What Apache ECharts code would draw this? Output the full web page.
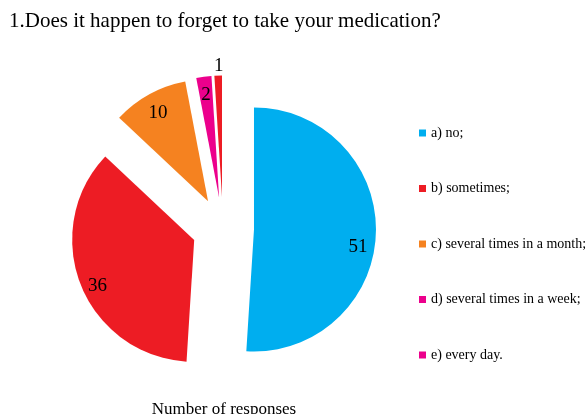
<!DOCTYPE html>
<html>
<head>
<meta charset="utf-8">
<script src="https://cdn.jsdelivr.net/npm/echarts@6/dist/echarts.min.js"></script>
<style>
  html, body { margin: 0; padding: 0; background: #fff; }
  #chart { width: 587px; height: 414px; }
</style>
</head>
<body>
<div id="chart"></div>
<script>
// Survey answers and their response counts
const categories = [
  'a) no;',
  'b) sometimes;',
  'c) several times in a month;',
  'd) several times in a week;',
  'e) every day.'
];
const responses = [51, 36, 10, 2, 1];
const sliceColors = ['#00AEEF', '#ED1C24', '#F58220', '#EC008C', '#ED1C24'];
const legendColors = ['#00AEEF', '#ED1C24', '#F58220', '#EC008C', '#EC008C'];

const titleText = '1.Does it happen to forget to take your medication?';
const footerText = 'Number of responses';

const serif = '"Liberation Serif", "Times New Roman", serif';
const pieCenter = [223, 228.5];
const pieRadius = 122;
const explode = 31;
// small vertical nudges for the value labels (px)
const labelNudge = [14, 8, 3, 0, -28];

const sliceData = categories.map((name, i) => ({
  name,
  value: responses[i],
  selected: true,
  itemStyle: { color: sliceColors[i] }
}));

const labelData = categories.map((name, i) => ({
  name,
  value: responses[i],
  selected: true
}));

const chart = echarts.init(document.getElementById('chart'), null, { renderer: 'canvas' });

chart.setOption({
  animation: false,
  backgroundColor: '#ffffff',
  title: [
    {
      text: titleText,
      left: 4,
      top: 6,
      textStyle: { fontFamily: serif, fontSize: 21, fontWeight: 'normal', color: '#000' }
    },
    {
      text: footerText,
      left: 219,
      top: 396,
      textAlign: 'center',
      textStyle: { fontFamily: serif, fontSize: 17, fontWeight: 'normal', color: '#000' }
    }
  ],
  legend: {
    orient: 'vertical',
    left: 419,
    top: 125,
    padding: 0,
    icon: 'rect',
    itemWidth: 7,
    itemHeight: 7,
    itemGap: 39.5,
    selectedMode: false,
    textStyle: { fontFamily: serif, fontSize: 14, color: '#000', lineHeight: 16 },
    data: categories.map((name, i) => ({ name, itemStyle: { color: legendColors[i] } }))
  },
  series: [
    {
      // visible exploded slices
      type: 'pie',
      center: pieCenter,
      radius: [0, pieRadius],
      startAngle: 90,
      clockwise: true,
      selectedMode: 'multiple',
      selectedOffset: explode,
      avoidLabelOverlap: false,
      label: { show: false },
      labelLine: { show: false },
      emphasis: { disabled: true },
      silent: true,
      data: sliceData
    },
    {
      // value labels placed near the rim of each slice
      type: 'pie',
      center: pieCenter,
      radius: [80, pieRadius],
      startAngle: 90,
      clockwise: true,
      selectedMode: 'multiple',
      selectedOffset: explode,
      avoidLabelOverlap: false,
      itemStyle: { color: 'rgba(0,0,0,0)' },
      label: {
        show: true,
        position: 'inside',
        formatter: '{c}',
        fontFamily: serif,
        fontSize: 19,
        color: '#000'
      },
      labelLine: { show: false },
      labelLayout: function (p) {
        return { dy: labelNudge[p.dataIndex] || 0 };
      },
      emphasis: { disabled: true },
      silent: true,
      data: labelData
    }
  ]
});
</script>
</body>
</html>
